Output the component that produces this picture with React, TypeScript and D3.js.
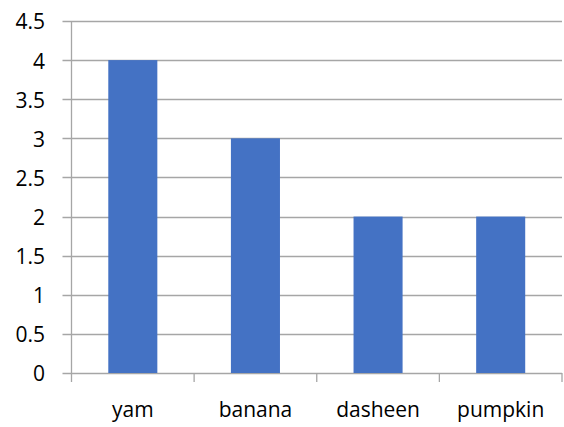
import React, { useEffect, useRef } from "react";
import * as d3 from "d3";

const categories = ["yam", "banana", "dasheen", "pumpkin"];
const counts = [4, 3, 2, 2];
const yTicks = [0, 0.5, 1, 1.5, 2, 2.5, 3, 3.5, 4, 4.5];

const W = 564;
const H = 427;

export default function App() {
  const ref = useRef<SVGSVGElement>(null);

  useEffect(() => {
    const svg = d3.select(ref.current);
    svg.selectAll("*").remove();

    const left = 71.5, right = 562, top = 21, bottom = 373;
    const grid = "#a6a6a6";
    const font = "'Open Sans', Lato, sans-serif";

    const x = d3.scaleBand<string>()
      .domain(categories)
      .range([left, right])
      .paddingInner(0.6)
      .paddingOuter(0.3);
    const step = x.step();

    const y = d3.scaleLinear().domain([0, 4.5]).range([bottom, top]);

    // horizontal gridlines (short tick to the left of axis)
    svg.append("g")
      .selectAll("line")
      .data(yTicks)
      .enter()
      .append("line")
      .attr("x1", left - 9)
      .attr("x2", right)
      .attr("y1", d => Math.round(y(d)) + 0.5)
      .attr("y2", d => Math.round(y(d)) + 0.5)
      .attr("stroke", grid)
      .attr("stroke-width", 1.3);

    // y labels
    svg.append("g")
      .selectAll("text")
      .data(yTicks)
      .enter()
      .append("text")
      .attr("x", 45)
      .attr("y", d => y(d))
      .attr("dy", "0.4em")
      .attr("text-anchor", "end")
      .attr("font-family", font)
      .attr("font-size", 21)
      .attr("fill", "#000")
      .text(d => String(d));

    // bars
    svg.append("g")
      .selectAll("rect")
      .data(counts)
      .enter()
      .append("rect")
      .attr("x", (d, i) => x(categories[i])!)
      .attr("y", d => y(d))
      .attr("width", x.bandwidth())
      .attr("height", d => y(0) - y(d))
      .attr("fill", "#4472c4");

    // vertical axis line
    svg.append("line")
      .attr("x1", left).attr("x2", left)
      .attr("y1", top).attr("y2", bottom + 9)
      .attr("stroke", grid)
      .attr("stroke-width", 1.3);

    // category separator ticks
    svg.append("g")
      .selectAll("line")
      .data(categories.slice(1).concat(["end"]))
      .enter()
      .append("line")
      .attr("x1", (d, i) => left + step * (i + 1))
      .attr("x2", (d, i) => left + step * (i + 1))
      .attr("y1", bottom)
      .attr("y2", bottom + 9)
      .attr("stroke", grid)
      .attr("stroke-width", 1.3);

    // category labels
    svg.append("g")
      .selectAll("text")
      .data(categories)
      .enter()
      .append("text")
      .attr("x", d => x(d)! + x.bandwidth() / 2)
      .attr("y", 417)
      .attr("text-anchor", "middle")
      .attr("font-family", font)
      .attr("font-size", 21)
      .attr("fill", "#000")
      .text(d => d);
  }, []);

  return (
    <svg
      ref={ref}
      width={W}
      height={H}
      style={{ position: "absolute", left: 0, top: 0, background: "#fff" }}
    />
  );
}
